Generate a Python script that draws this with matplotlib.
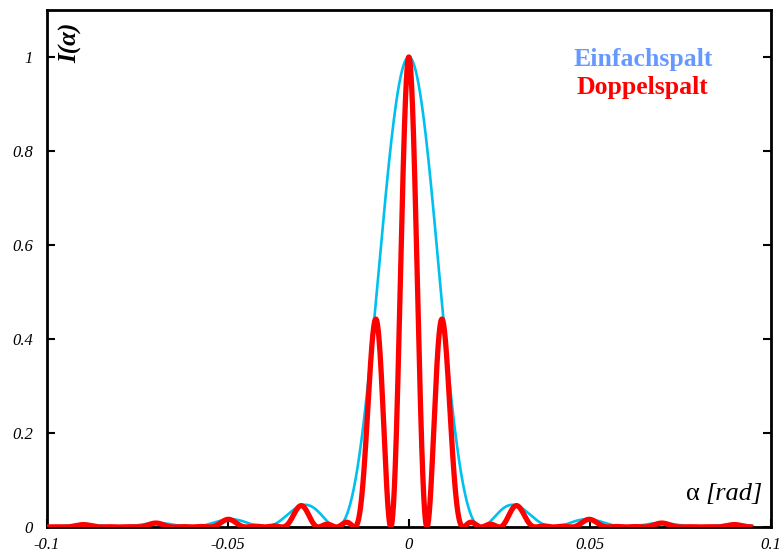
import numpy as np
import matplotlib
matplotlib.use("Agg")
import matplotlib.pyplot as plt

# Physical parameters (ratio to wavelength)
slit_width_over_lambda = 50.0     # first single-slit minimum at alpha = 0.02 rad
slit_distance_over_lambda = 100.0  # double-slit fringe spacing 0.01 rad
alpha_range = [-0.1, 0.095]
x_ticks = [-0.1, -0.05, 0, 0.05, 0.1]
x_ticklabels = ["-0.1", "-0.05", "0", "0.05", "0.1"]
y_ticks = [0, 0.2, 0.4, 0.6, 0.8, 1]
y_ticklabels = ["0", "0.2", "0.4", "0.6", "0.8", "1"]
series_names = ["Einfachspalt", "Doppelspalt"]

alpha = np.linspace(alpha_range[0], alpha_range[1], 4000)
beta = np.pi * slit_width_over_lambda * alpha
gamma = np.pi * slit_distance_over_lambda * alpha
single = np.sinc(beta / np.pi) ** 2
double = single * np.cos(gamma) ** 2

plt.rcParams['font.family'] = ['Liberation Serif', 'DejaVu Serif']

fig = plt.figure(figsize=(7.81, 5.55), dpi=100)
ax = fig.add_axes([0.060, 0.0505, 0.927, 0.9315])
ax.plot(alpha, single, color="#00c0f0", lw=1.9, zorder=2)
ax.plot(alpha, double, color="#ff0000", lw=3.8, zorder=3, solid_capstyle="butt")

ax.set_xlim(-0.1, 0.1)
ax.set_ylim(0, 1.1)
ax.set_xticks(x_ticks)
ax.set_xticklabels(x_ticklabels, fontstyle="italic", fontsize=12)
ax.set_yticks(y_ticks)
ax.set_yticklabels(y_ticklabels, fontstyle="italic", fontsize=12)
ax.tick_params(direction="in", length=6, width=1.5, top=False, right=True)
ax.tick_params(axis="y", pad=10)
ax.tick_params(axis="x", pad=7)
for s in ax.spines.values():
    s.set_linewidth(2)

ax.text(0.017, 0.975, "I(α)", transform=ax.transAxes, rotation=90,
        fontsize=18, fontweight="bold", fontstyle="italic", va="top", ha="left")
ax.text(0.902, 0.042, "α", transform=ax.transAxes,
        fontsize=19, ha="right", va="bottom")
ax.text(0.910, 0.042, "[rad]", transform=ax.transAxes, fontstyle="italic",
        fontsize=19, ha="left", va="bottom")
ax.text(0.728, 0.905, series_names[0], transform=ax.transAxes, color="#6699ff",
        fontsize=18.5, fontweight="bold", ha="left", va="center")
ax.text(0.731, 0.851, series_names[1], transform=ax.transAxes, color="#ff0000",
        fontsize=18.5, fontweight="bold", ha="left", va="center")

fig.savefig("out.png", dpi=100)
